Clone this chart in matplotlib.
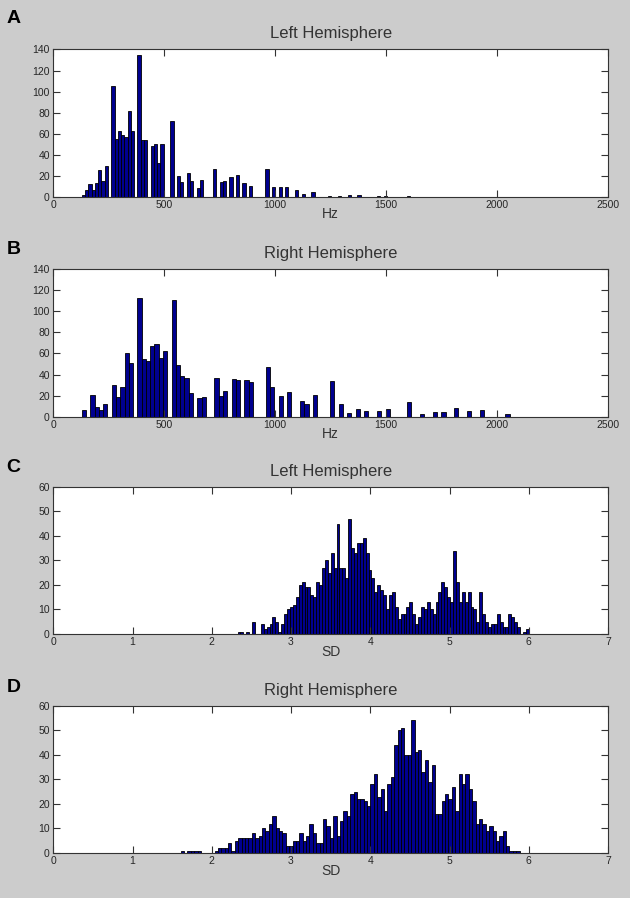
import numpy as np
import matplotlib
matplotlib.use("Agg")
import matplotlib.pyplot as plt

plt.rcParams['font.family'] = ['Liberation Sans', 'DejaVu Sans']

# ---------------- data (100-bin histograms) ----------------
panel_letters = ["A", "B", "C", "D"]
panel_titles = ["Left Hemisphere", "Right Hemisphere", "Left Hemisphere", "Right Hemisphere"]
panel_xlabels = ["Hz", "Hz", "SD", "SD"]

A_range = (128, 1607)
A_counts = [2, 6, 12, 6, 13, 25, 15, 29, 0, 105,
            55, 63, 59, 57, 82, 63, 0, 135, 54, 54,
            0, 48, 50, 32, 50, 0, 0, 72, 0, 20,
            14, 0, 23, 15, 0, 8, 16, 0, 0, 0,
            26, 0, 14, 15, 0, 19, 0, 21, 0, 13,
            0, 10, 0, 0, 0, 0, 26, 0, 9, 0,
            9, 0, 9, 0, 0, 6, 0, 3, 0, 0,
            5, 0, 0, 0, 0, 1, 0, 0, 1, 0,
            0, 2, 0, 0, 2, 0, 0, 0, 0, 0,
            1, 0, 1, 0, 0, 0, 0, 0, 0, 1]

B_range = (128, 2057)
B_counts = [6, 0, 21, 9, 6, 12, 0, 30, 19, 28,
            60, 51, 0, 113, 55, 53, 67, 69, 56, 62,
            0, 111, 49, 39, 37, 22, 0, 18, 19, 0,
            0, 37, 20, 24, 0, 36, 35, 0, 35, 33,
            0, 0, 0, 47, 28, 0, 20, 0, 23, 0,
            0, 15, 12, 0, 21, 0, 0, 0, 34, 0,
            12, 0, 3, 0, 7, 0, 5, 0, 0, 5,
            0, 7, 0, 0, 0, 0, 14, 0, 0, 2,
            0, 0, 4, 0, 4, 0, 0, 8, 0, 0,
            5, 0, 0, 6, 0, 0, 0, 0, 0, 2]

C_range = (2.325, 6.0)
C_counts = [1, 1, 0, 1, 0, 5, 0, 0, 4, 2,
            3, 4, 7, 5, 1, 4, 8, 10, 11, 12,
            15, 20, 21, 19, 19, 16, 15, 21, 20, 27,
            30, 25, 33, 27, 45, 27, 27, 23, 47, 35,
            33, 37, 37, 39, 33, 26, 23, 17, 20, 18,
            16, 10, 16, 17, 11, 6, 8, 8, 11, 13,
            8, 4, 7, 11, 10, 13, 10, 8, 13, 17,
            21, 19, 15, 13, 34, 21, 13, 17, 13, 17,
            11, 10, 5, 17, 8, 5, 3, 4, 4, 8,
            5, 3, 3, 8, 7, 5, 3, 0, 1, 2]

D_range = (1.607, 5.885)
D_counts = [1, 0, 1, 1, 1, 1, 0, 0, 0, 0,
            1, 2, 2, 2, 4, 1, 5, 6, 6, 6,
            6, 8, 6, 7, 10, 9, 12, 15, 10, 9,
            8, 3, 3, 5, 5, 8, 5, 7, 12, 8,
            4, 4, 14, 11, 6, 15, 7, 13, 17, 15,
            24, 25, 22, 22, 21, 19, 28, 32, 23, 26,
            17, 28, 31, 44, 50, 51, 40, 40, 54, 41,
            42, 33, 38, 29, 36, 16, 16, 21, 24, 22,
            27, 17, 32, 28, 32, 26, 21, 12, 14, 12,
            9, 11, 9, 5, 7, 9, 3, 1, 1, 1]

ranges = [A_range, B_range, C_range, D_range]
counts_list = [A_counts, B_counts, C_counts, D_counts]
xlims = [(0, 2500), (0, 2500), (0, 7), (0, 7)]
xticks = [np.arange(0, 2501, 500), np.arange(0, 2501, 500), np.arange(0, 8, 1), np.arange(0, 8, 1)]
ylims = [(0, 140), (0, 140), (0, 60), (0, 60)]
yticks = [np.arange(0, 141, 20), np.arange(0, 141, 20), np.arange(0, 61, 10), np.arange(0, 61, 10)]

# ---------------- layout ----------------
W, H = 630, 898
fig = plt.figure(figsize=(W / 100, H / 100), dpi=100)
fig.patch.set_facecolor('#cccccc')

ax_left, ax_right = 53.3, 608.0
ax_tops = [49.5, 269.3, 486.7, 705.7]
ax_h = 147.3
letter_centers = [18.5, 250.0, 468.0, 688.0]

bar_color = (0.0, 0.0, 0.5625)
text_color = '#262626'

for i in range(4):
    top = ax_tops[i]
    ax = fig.add_axes([ax_left / W, 1 - (top + ax_h) / H, (ax_right - ax_left) / W, ax_h / H])
    ax.set_facecolor('white')
    lo, hi = ranges[i]
    counts = np.array(counts_list[i], dtype=float)
    edges = np.linspace(lo, hi, len(counts) + 1)
    ax.bar(edges[:-1], counts, width=np.diff(edges), align='edge',
           color=bar_color, edgecolor='black', linewidth=0.6)
    ax.set_xlim(*xlims[i])
    ax.set_ylim(*ylims[i])
    ax.set_xticks(xticks[i])
    ax.set_yticks(yticks[i])
    ax.tick_params(direction='in', length=5, width=0.8, top=True, right=True,
                   labelsize=7.5, colors='#333333', labelcolor=text_color, pad=2.5)
    for sp in ax.spines.values():
        sp.set_color('#333333')
        sp.set_linewidth(0.8)
    ax.set_title(panel_titles[i], fontsize=12, color='#333333', pad=8)
    ax.set_xlabel(panel_xlabels[i], fontsize=10, color='#333333', labelpad=-2)
    fig.text(6.5 / W, 1 - letter_centers[i] / H, panel_letters[i], fontsize=14,
             fontweight='bold', color='black', ha='left', va='center')

fig.savefig('out.png', dpi=100, facecolor=fig.get_facecolor())
